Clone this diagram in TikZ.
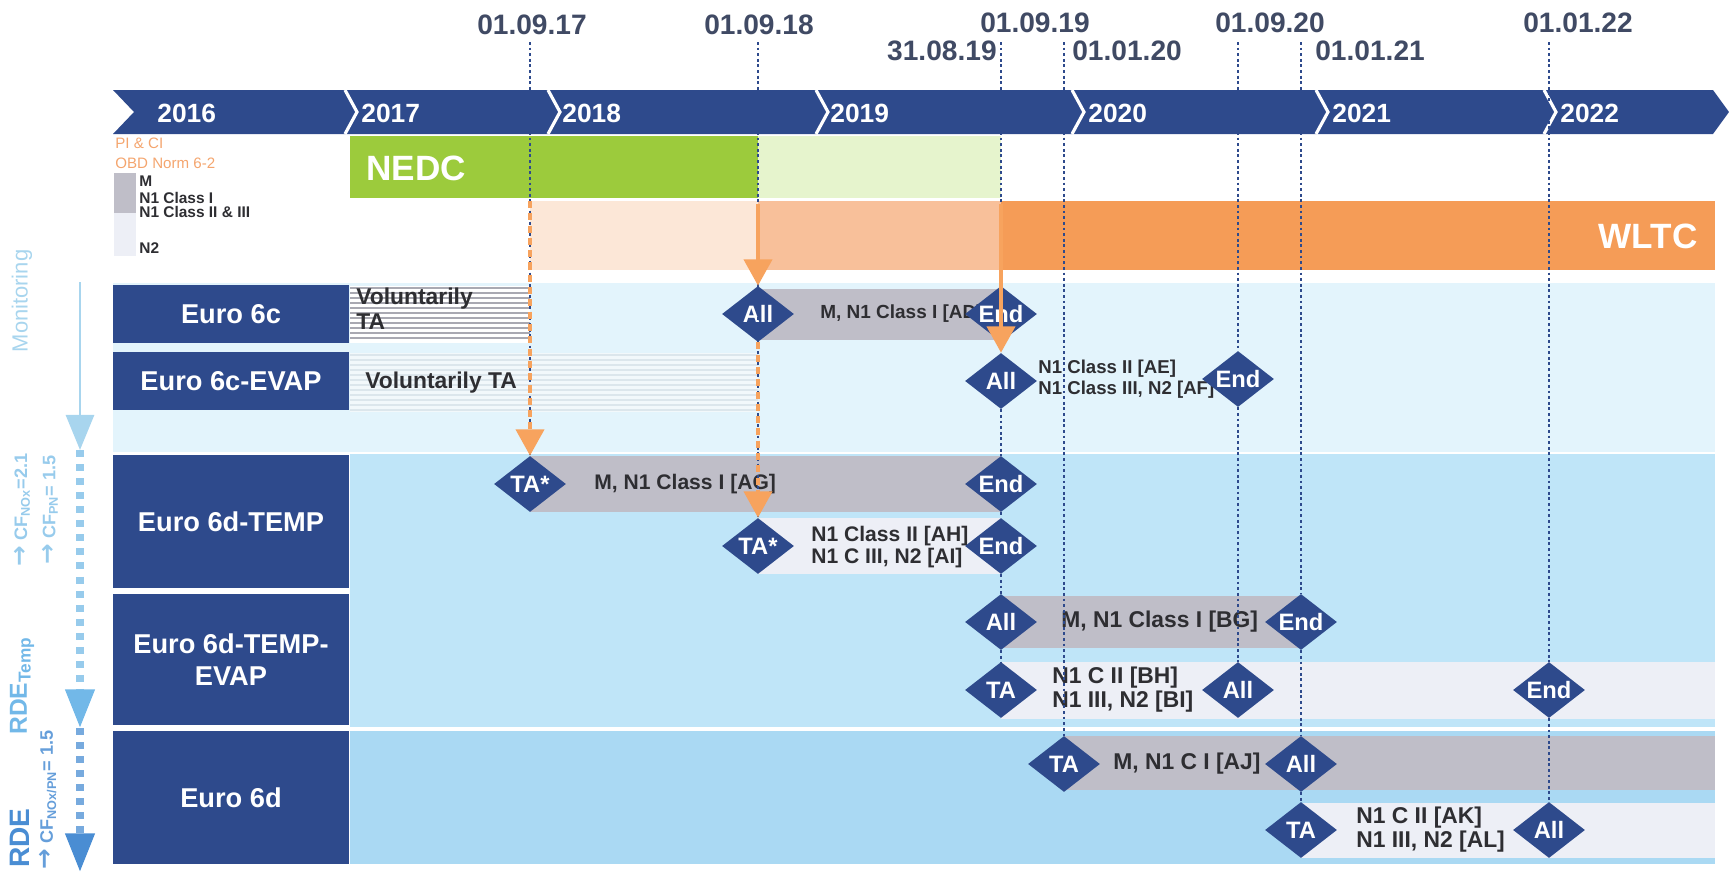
\documentclass[tikz,border=0pt]{standalone}
\usepackage{fontspec}
\setmainfont{Liberation Sans}
\newfontfamily\arrfont{DejaVu Sans}
\usetikzlibrary{arrows.meta, positioning, shapes.geometric, calc}
\definecolor{cnavy}{HTML}{2E4A8C}
\definecolor{cdate}{HTML}{404A64}
\definecolor{cgreen}{HTML}{9CCB3C}
\definecolor{cgreenl}{HTML}{E6F4CD}
\definecolor{cpeach}{HTML}{FCE7D7}
\definecolor{corangel}{HTML}{F8C09A}
\definecolor{corange}{HTML}{F59C57}
\definecolor{carrow}{HTML}{F7A35E}
\definecolor{cgrey}{HTML}{BFBEC8}
\definecolor{cwhite}{HTML}{EDEFF6}
\definecolor{cband}{HTML}{E3F4FC}
\definecolor{cbandb}{HTML}{BFE5F8}
\definecolor{cbandc}{HTML}{AAD9F3}
\definecolor{cstripe}{HTML}{A9A9B2}
\definecolor{cfaint}{HTML}{DCE6EC}
\definecolor{cpale}{HTML}{F2F8FB}
\definecolor{ctext}{HTML}{2E2E32}
\definecolor{clegend}{HTML}{F4A56E}
\definecolor{cmon}{HTML}{A8D5EE}
\definecolor{ccf}{HTML}{97CBEC}
\definecolor{crdet}{HTML}{72B8E8}
\definecolor{crde}{HTML}{4A8DD3}
\newcommand{\fsz}[2]{\fontsize{#1}{#2}\selectfont\bfseries}
\newcommand{\dtxt}[1]{\makebox[0pt]{#1}}
\newcommand{\rarr}{{\arrfont\bfseries\fontsize{14}{14}\selectfont →}}
\tikzset{
  every picture/.style={font=\bfseries},
  datelbl/.style={font=\fsz{16}{16}, text=cdate, inner sep=0pt},
  yearlbl/.style={font=\fsz{15}{15}, text=white, anchor=west, inner sep=0pt},
  rowbox/.style={fill=cnavy, text=white, font=\fsz{15.5}{18}, align=center, inner sep=0pt, minimum width=4.72cm},
  cyclelbl/.style={font=\fsz{20}{20}, text=white, inner sep=0pt},
  dia/.style={diamond, fill=cnavy, text=white, font=\fsz{13.5}{13.5}, inner sep=0pt, minimum width=1.44cm, minimum height=1.12cm},
  bartxt/.style={font=\fsz{12}{12.5}, text=ctext, anchor=west, align=left, inner sep=0pt},
  legorange/.style={font=\fontsize{8.6}{8.6}\selectfont, text=clegend, anchor=west, inner sep=0pt},
  legtxt/.style={font=\fsz{8.8}{8.8}, text=ctext, anchor=west, inner sep=0pt},
  sidelbl/.style={rotate=90, inner sep=0pt},
  vline/.style={draw=cnavy, line width=1.6pt, dash pattern=on 1.6pt off 1.6pt},
  oarrow/.style={draw=carrow, line width=2.2pt, -{Triangle[width=16pt, length=15pt]}},
}

\begin{document}
\begin{tikzpicture}[x=0.02cm, y=-0.02cm]
  \useasboundingbox (0,0) rectangle (1729,872);
  % row bands
  \fill[cband] (113,283) rectangle (1715,452);
  \fill[cbandb] (350,454) rectangle (1715,727);
  \fill[cbandc] (350,731) rectangle (1715,864);
  % voluntary TA fields
  \fill[white] (350,286) rectangle (530,343);
  \foreach \yy in {288,293,...,341} \draw[cstripe, line width=1.1pt] (350,\yy) -- (530,\yy);
  \fill[cpale] (350,353) rectangle (758,412);
  \foreach \yy in {355,360,...,410} \draw[cfaint, line width=0.8pt] (350,\yy) -- (758,\yy);
  \node[bartxt, font=\fsz{13}{13}] (vol1) at (356,299) {Voluntarily};
  \node[bartxt, font=\fsz{13}{13}] (vol2) at (356,322) {TA};
  \node[bartxt, font=\fsz{13}{13}] (vol3) at (365,383) {Voluntarily TA};
  % test cycles
  \fill[cgreen] (350,136) rectangle (758,198);
  \fill[cgreenl] (758,136) rectangle (1001,198);
  \fill[cpeach] (530,201) rectangle (758,270);
  \fill[corangel] (758,201) rectangle (1001,270);
  \fill[corange] (1001,201) rectangle (1715,270);
  \node[cyclelbl, anchor=west] (nedc) at (366,168) {NEDC};
  \node[cyclelbl, anchor=east] (wltc) at (1698,236) {WLTC};
  % legend
  \node[legorange] (pici) at (115,143) {PI \& CI};
  \node[legorange] (obd) at (115,163) {OBD Norm 6-2};
  \fill[cgrey] (114,173) rectangle (136,213);
  \fill[cwhite] (114,213) rectangle (136,256);
  \node[legtxt] (lm) at (139,181) {M};
  \node[legtxt] (ln1) at (139,198) {N1 Class I};
  \node[legtxt] (ln23) at (139,212) {N1 Class II \& III};
  \node[legtxt] (ln2) at (139,248) {N2};
  % timeline
  \fill[cnavy] (113,90) -- (1713,90) -- (1729,112) -- (1713,134) -- (113,134) -- (134,112) -- cycle;
  \foreach \s in {345,548,816,1072,1316,1544}
    \draw[white, line width=1.8pt] (\s,90) -- (\s+12,112) -- (\s,134);
  \foreach \x/\yr in {157/2016,361/2017,562/2018,830/2019,1088/2020,1332/2021,1560/2022}
    \node[yearlbl] (y\yr) at (\x,113) {\yr};
  % key dates
  \node[datelbl] (t17) at (532,25) {01.09.17};
  \node[datelbl] (t18) at (759,25) {01.09.18};
  \node[datelbl] (t19) at (1035,23) {01.09.19};
  \node[datelbl, anchor=east] (t31) at (997,51) {31.08.19};
  \node[datelbl, anchor=west] (t20) at (1072,51) {01.01.20};
  \node[datelbl] (t920) at (1270,23) {01.09.20};
  \node[datelbl, anchor=west] (t21) at (1315,51) {01.01.21};
  \node[datelbl] (t22) at (1578,23) {01.01.22};
  \coordinate (v17) at (530,42);
  \coordinate (v18) at (758,42);
  \coordinate (v19) at (1001,42);
  \coordinate (v20) at (1064,42);
  \coordinate (v920) at (1238,42);
  \coordinate (v21) at (1301,42);
  \coordinate (v22) at (1549,42);
  % standards
  \node[rowbox, minimum height=1.16cm] (e6c) at (231,314) {Euro 6c};
  \node[rowbox, minimum height=1.16cm] (e6cev) at (231,381) {Euro 6c-EVAP};
  \node[rowbox, minimum height=2.66cm] (e6dt) at (231,521.5) {Euro 6d-TEMP};
  \node[rowbox, minimum height=2.62cm] (e6dtev) at (231,659.5) {Euro 6d-TEMP-\\EVAP};
  \node[rowbox, minimum height=2.66cm] (e6d) at (231,797.5) {Euro 6d};
  % class bars
  \fill[cgrey] (758,289) rectangle (1001,340);
  \fill[cgrey] (530,456) rectangle (1001,512);
  \fill[cwhite] (758,518) rectangle (1001,574);
  \fill[cgrey] (1001,596) rectangle (1301,648);
  \fill[cwhite] (1001,662) rectangle (1715,719);
  \fill[cgrey] (1064,736) rectangle (1715,790);
  \fill[cwhite] (1301,803) rectangle (1715,858);
  \node[bartxt, font=\fsz{10.8}{10.8}] (cAD) at (820,314) {M, N1 Class I [AD]};
  \node[bartxt, font=\fsz{10.6}{12}] (cAE) at (1038,379) {N1 Class II [AE]\\N1 Class III, N2 [AF]};
  \node[bartxt] (cAG) at (594,484) {M, N1 Class I [AG]};
  \node[bartxt] (cAH) at (811,547) {N1 Class II [AH]\\N1 C III, N2 [AI]};
  \node[bartxt, font=\fsz{13}{13}] (cBG) at (1061,622) {M, N1 Class I [BG]};
  \node[bartxt, font=\fsz{13}{13.7}] (cBH) at (1052,690) {N1 C II [BH]\\N1 III, N2 [BI]};
  \node[bartxt, font=\fsz{13}{13}] (cAJ) at (1113,764) {M, N1 C I [AJ]};
  \node[bartxt, font=\fsz{13}{13.7}] (cAK) at (1356,830) {N1 C II [AK]\\N1 III, N2 [AL]};
  % milestones
  \node[dia] (d6cAll) at (758,314) {\dtxt{All}};
  \node[dia] (d6cEnd) at (1001,314) {\dtxt{End}};
  \node[dia] (dEvAll) at (1001,381) {\dtxt{All}};
  \node[dia] (dEvEnd) at (1238,379) {\dtxt{End}};
  \node[dia] (dTaA) at (530,484) {\dtxt{TA*}};
  \node[dia] (dTaAEnd) at (1001,484) {\dtxt{End}};
  \node[dia] (dTaB) at (758,546) {\dtxt{TA*}};
  \node[dia] (dTaBEnd) at (1001,546) {\dtxt{End}};
  \node[dia] (dTeA) at (1001,622) {\dtxt{All}};
  \node[dia] (dTeAEnd) at (1301,622) {\dtxt{End}};
  \node[dia] (dTeB) at (1001,690) {\dtxt{TA}};
  \node[dia] (dTeBAll) at (1238,690) {\dtxt{All}};
  \node[dia] (dTeBEnd) at (1549,690) {\dtxt{End}};
  \node[dia] (d6dA) at (1064,764) {\dtxt{TA}};
  \node[dia] (d6dAAll) at (1301,764) {\dtxt{All}};
  \node[dia] (d6dB) at (1301,830) {\dtxt{TA}};
  \node[dia] (d6dBAll) at (1549,830) {\dtxt{All}};
  % date lines
  \foreach \a/\b in {v17/dTaA.north, v18/dTaB.north, v19/d6cEnd.north,
      d6cEnd.south/dEvAll.north, dEvAll.south/dTaAEnd.north, dTaAEnd.south/dTaBEnd.north,
      dTaBEnd.south/dTeA.north, dTeA.south/dTeB.north, v20/d6dA.north,
      v920/dEvEnd.north, dEvEnd.south/dTeBAll.north, v21/dTeAEnd.north,
      dTeAEnd.south/d6dAAll.north, d6dAAll.south/d6dB.north, v22/dTeBEnd.north,
      dTeBEnd.south/d6dBAll.north}
    \draw[vline] (\a) -- (\b);
  % cycle switch arrows
  \coordinate (o17) at (530,201);
  \coordinate (o18) at (758,204);
  \coordinate (o19) at (1001,204);
  \draw[oarrow, dash pattern=on 4pt off 3pt] (o17) -- (dTaA.north);
  \draw[oarrow] (o18) -- (d6cAll.north);
  \draw[oarrow, dash pattern=on 4pt off 3pt] (d6cAll.south) -- (dTaB.north);
  \draw[oarrow] (o19) -- (dEvAll.north);
  % monitoring / RDE column
  \node[sidelbl, font=\fontsize{12.5}{12.5}\selectfont, text=cmon] (mon) at (22,301) {Monitoring};
  \node[sidelbl, font=\fsz{10.3}{10.3}, text=ccf] (cfnox) at (22,510) {\rarr\ CF\textsubscript{NOx}=2.1};
  \node[sidelbl, font=\fsz{10.3}{10.3}, text=ccf] (cfpn) at (50,510) {\rarr\ CF\textsubscript{PN}= 1.5};
  \node[sidelbl, font=\fsz{14}{14}, text=crdet] (rdet) at (22,686) {RDE\textsubscript{Temp}};
  \node[sidelbl, font=\fsz{16}{16}, text=crde] (rde) at (20,838) {RDE};
  \node[sidelbl, font=\fsz{10.3}{10.3}, text=crde!85!white] (cfall) at (48,800) {\rarr\ CF\textsubscript{NOx/PN}= 1.5};
  \coordinate (m0) at (80,282);
  \coordinate (m1) at (80,450);
  \coordinate (m2) at (80,728);
  \coordinate (m3) at (80,872);
  \draw[cmon, line width=1.6pt, -{Triangle[width=16pt, length=20pt]}] (m0) -- (m1);
  \draw[ccf, line width=4pt, dash pattern=on 4pt off 4pt, -{Triangle[width=16pt, length=22pt, color=crdet]}] (m1) -- (m2);
  \draw[crde!75!white, line width=4pt, dash pattern=on 4pt off 4pt, -{Triangle[width=16pt, length=22pt, color=crde]}] (m2) -- (m3);
\end{tikzpicture}
\end{document}
